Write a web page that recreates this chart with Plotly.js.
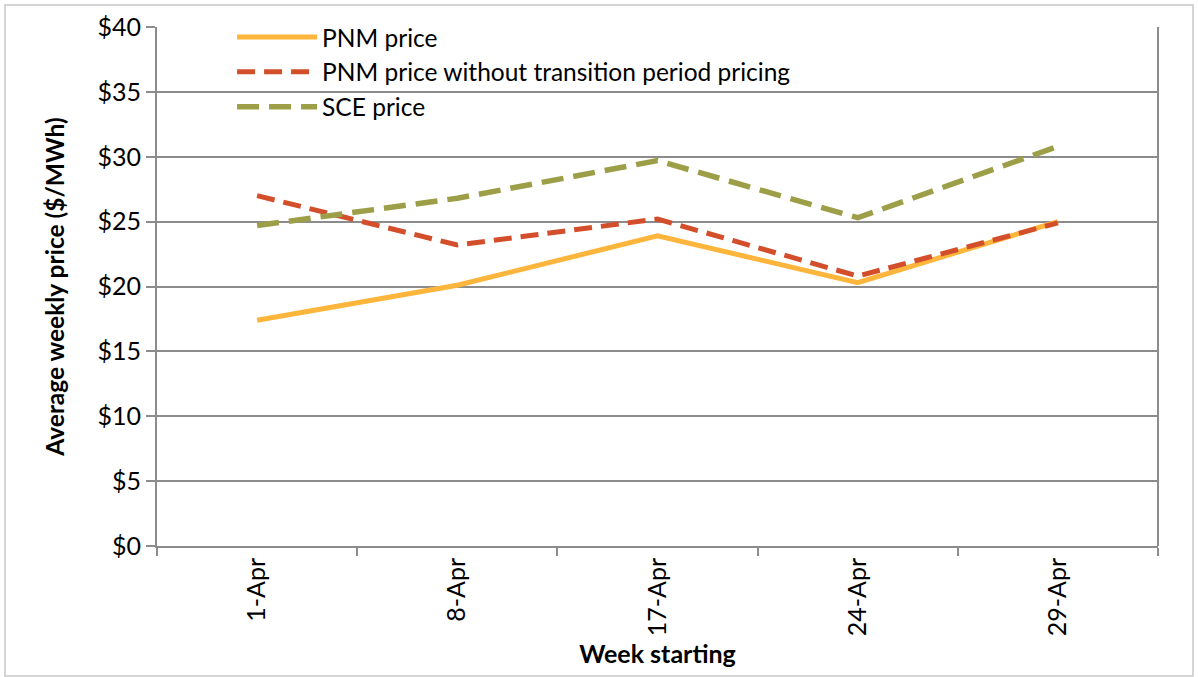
<!DOCTYPE html>
<html>
<head>
<meta charset="utf-8">
<script src="https://cdn.plot.ly/plotly-3.0.1.min.js"></script>
<style>
html,body{margin:0;padding:0;background:#fff;}
#chart{width:1198px;height:677px;}
</style>
</head>
<body>
<div id="chart"></div>
<script>
const weeks = ["1-Apr", "8-Apr", "17-Apr", "24-Apr", "29-Apr"];
const pnmPrice = [17.4, 20.1, 23.9, 20.3, 25.0];
const pnmNoTransition = [27.0, 23.2, 25.2, 20.8, 24.9];
const scePrice = [24.7, 26.8, 29.7, 25.3, 30.8];
const seriesNames = ["PNM price", "PNM price without transition period pricing", "SCE price"];
const yTickVals = [0, 5, 10, 15, 20, 25, 30, 35, 40];
const yTickText = ["$0", "$5", "$10", "$15", "$20", "$25", "$30", "$35", "$40"];

const fontFam = "Lato, sans-serif";

const traces = [
  {x: weeks, y: pnmPrice, name: seriesNames[0], type: "scatter", mode: "lines",
   line: {color: "#FDB53C", width: 5}},
  {x: weeks, y: pnmNoTransition, name: seriesNames[1], type: "scatter", mode: "lines",
   line: {color: "#D34E2A", width: 5, dash: "18px,9px"}},
  {x: weeks, y: scePrice, name: seriesNames[2], type: "scatter", mode: "lines",
   line: {color: "#9D9F48", width: 5.5, dash: "22px,10px"}}
];

const layout = {
  width: 1198, height: 677,
  margin: {l: 157, r: 40, t: 27, b: 131},
  paper_bgcolor: "#fff", plot_bgcolor: "#fff",
  font: {family: fontFam, size: 25, color: "#000"},
  showlegend: true,
  legend: {x: 0.075, y: 1.024, xanchor: "left", yanchor: "top", bgcolor: "rgba(0,0,0,0)",
           font: {family: fontFam, size: 24.5, color: "#000"}, itemwidth: 80, tracegroupgap: 0},
  xaxis: {
    type: "category", range: [-0.5, 4.5], tickangle: -90, showgrid: false, showline: true, linecolor: "#8c8c8c", linewidth: 2,
    ticks: "outside", tickson: "boundaries", ticklen: 8, tickcolor: "#8c8c8c", tickwidth: 2,
    tickfont: {family: fontFam, size: 25, color: "#000"}, mirror: false,
    title: {text: "<b>Week starting</b>", font: {family: fontFam, size: 25, color: "#000"}, standoff: 10},
    zeroline: false
  },
  yaxis: {
    range: [0, 40], tickvals: yTickVals, ticktext: yTickText,
    showgrid: true, gridcolor: "#8c8c8c", gridwidth: 2,
    showline: true, linecolor: "#8c8c8c", linewidth: 2,
    ticks: "outside", ticklen: 9, tickcolor: "#8c8c8c", tickwidth: 2,
    tickfont: {family: fontFam, size: 25, color: "#000"},
    title: {text: "<b>Average weekly price ($/MWh)</b>", font: {family: fontFam, size: 24.5, color: "#000"}, standoff: 26},
    zeroline: false
  },
  shapes: [
    {type: "line", xref: "paper", yref: "paper", x0: 1, x1: 1, y0: 0, y1: 1,
     line: {color: "#8c8c8c", width: 2}},
    {type: "rect", xref: "paper", yref: "paper",
     x0: -152/1001, x1: 1 + 35/1001, y0: -130/519, y1: 1 + 22/519,
     line: {color: "#c8c8c8", width: 1.5}}
  ]
};

Plotly.newPlot("chart", traces, layout, {displayModeBar: false, staticPlot: true});
</script>
</body>
</html>
